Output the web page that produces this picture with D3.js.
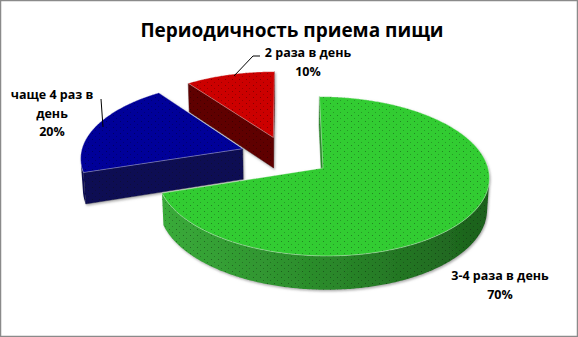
<!DOCTYPE html>
<html>
<head>
<meta charset="utf-8">
<script src="https://cdn.jsdelivr.net/npm/d3@7"></script>
<style>
  html, body { margin: 0; padding: 0; background: #fff; }
  svg { display: block; }
</style>
</head>
<body>
<svg id="chart"></svg>
<script>
const title = "Периодичность приема пищи";
const categories = ["3-4 раза в день", "чаще 4 раз в день", "2 раза в день"];
const values = [70, 20, 10];
const topColors = ["#33cc33", "#000099", "#cc0000"];
const sideColors = ["#2a8a2a", "#0b0b52", "#5e0000"];

const width = 578;
const height = 337;

// Excel-like 3D view: camera tilted down, mild perspective.
const view = {
  x0: 285.6, y0: 155.2, fx: 1400, fy: 1442, dist: 8.63,
  tilt: 27.1 * Math.PI / 180, depth: 0.21,
};
// how far each slice is pulled out (same order as categories)
const explode = [0.28, 0.28, 0.25];
const cosT = Math.cos(view.tilt);
const sinT = Math.sin(view.tilt);
const cam = { u: 0, d: -view.dist * cosT, h: view.dist * sinT };

// label anchors per slice (same order as categories)
const labelPos = [
  { x: 500, y: 280, wrap: 140 },
  { x: 52, y: 99, wrap: 86 },
  { x: 308, y: 57, wrap: 140 },
];
const leaders = [
  null,
  [[101, 99], [103, 127]],
  [[260, 56], [253, 56], [234, 76]],
];

const svg = d3.select("#chart").attr("width", width).attr("height", height);

const defs = svg.append("defs");
const dots = defs.append("pattern").attr("id", "dots")
  .attr("patternUnits", "userSpaceOnUse").attr("width", 7).attr("height", 6);
dots.append("rect").attr("x", 1).attr("y", 1).attr("width", 1).attr("height", 1).attr("fill", "#000").attr("opacity", 0.35);
dots.append("rect").attr("x", 4).attr("y", 4).attr("width", 1).attr("height", 1).attr("fill", "#000").attr("opacity", 0.25);

const shadow = defs.append("filter").attr("id", "shadow")
  .attr("x", "-10%").attr("y", "-10%").attr("width", "120%").attr("height", "130%");
shadow.append("feDropShadow").attr("dx", 1).attr("dy", 1.5).attr("stdDeviation", 1.2)
  .attr("flood-color", "#777").attr("flood-opacity", 0.6);

const greenSide = defs.append("linearGradient").attr("id", "side0")
  .attr("gradientUnits", "userSpaceOnUse").attr("x1", 160).attr("x2", 495).attr("y1", 0).attr("y2", 0);
greenSide.append("stop").attr("offset", 0).attr("stop-color", "#3aab3a");
greenSide.append("stop").attr("offset", 0.5).attr("stop-color", "#2a892a");
greenSide.append("stop").attr("offset", 1).attr("stop-color", "#1c5e1c");

svg.append("rect").attr("x", 0.5).attr("y", 0.5).attr("width", width - 1).attr("height", height - 1)
  .attr("fill", "#fff").attr("stroke", "#8a8a8a").attr("stroke-width", 1.5);

svg.append("text")
  .attr("x", 292).attr("y", 37)
  .attr("text-anchor", "middle")
  .attr("font-family", "'Open Sans', 'DejaVu Sans', sans-serif")
  .attr("font-size", 19).attr("font-weight", "bold")
  .attr("fill", "#000")
  .text(title);

function project(u, d, h) {
  const yc = d * sinT + h * cosT;
  const zc = view.dist + d * cosT - h * sinT;
  return [view.x0 + view.fx * u / zc, view.y0 - view.fy * yc / zc];
}

const pie = d3.pie().sort(null).value(d => d.value);
const arcs = pie(categories.map((c, i) => ({ name: c, value: values[i], i })));
const total = d3.sum(values);
const pct = d3.format(".0%");
const line = d3.line().curve(d3.curveLinearClosed);

const step = Math.PI / 360;
function angles(a0, a1) {
  const n = Math.max(2, Math.ceil((a1 - a0) / step));
  return d3.range(n + 1).map(k => a0 + (a1 - a0) * k / n);
}

function sliceGeometry(a, e) {
  const m = (a.startAngle + a.endAngle) / 2;
  const ou = e * Math.sin(m);
  const od = e * Math.cos(m);
  const pt = (t, r, h) => project(ou + r * Math.sin(t), od + r * Math.cos(t), h);
  const ts = angles(a.startAngle, a.endAngle);
  const H = -view.depth;

  const top = [pt(0, 0, 0), ...ts.map(t => pt(t, 1, 0))];

  // outer wall, only the parts facing the camera
  const sides = [];
  let run = [];
  ts.forEach(t => {
    const dot = -ou * Math.sin(t) - od * Math.cos(t) - 1 - view.dist * cosT * Math.cos(t);
    if (dot > 0) run.push(t);
    else if (run.length) { sides.push(run); run = []; }
  });
  if (run.length) sides.push(run);
  const walls = sides.filter(r => r.length > 1)
    .map(r => [...r.map(t => pt(t, 1, 0)), ...r.slice().reverse().map(t => pt(t, 1, H))]);

  // radial cut faces
  const toCam = [cam.u - ou, cam.d - od];
  const cuts = [];
  const n0 = [-Math.cos(a.startAngle), Math.sin(a.startAngle)];
  const n1 = [Math.cos(a.endAngle), -Math.sin(a.endAngle)];
  [[a.startAngle, n0], [a.endAngle, n1]].forEach(([t, n]) => {
    if (n[0] * toCam[0] + n[1] * toCam[1] > 0) {
      cuts.push([pt(0, 0, 0), pt(t, 1, 0), pt(t, 1, H), pt(0, 0, H)]);
    }
  });
  return { top, walls, cuts };
}

// paint far slices first
const order = [2, 1, 0];
const pieLayer = svg.append("g");
order.forEach(i => {
  const geo = sliceGeometry(arcs[i], explode[i]);
  const g = pieLayer.append("g").attr("filter", "url(#shadow)");
  const sideFill = i === 0 ? "url(#side0)" : sideColors[i];
  geo.walls.forEach(w => {
    g.append("path").attr("d", line(w)).attr("fill", sideFill);
    g.append("path").attr("d", line(w)).attr("fill", "url(#dots)");
  });
  geo.cuts.forEach(c => {
    g.append("path").attr("d", line(c)).attr("fill", sideColors[i])
      .attr("stroke", sideColors[i]).attr("stroke-width", 0.5);
    g.append("path").attr("d", line(c)).attr("fill", "url(#dots)");
  });
  g.append("path").attr("d", line(geo.top)).attr("fill", topColors[i]);
  g.append("path").attr("d", line(geo.top)).attr("fill", "url(#dots)")
    .attr("stroke", "#ffffff").attr("stroke-opacity", 0.45).attr("stroke-width", 0.8);
});

// leader lines
leaders.forEach(l => {
  if (!l) return;
  svg.append("path").attr("d", d3.line()(l)).attr("fill", "none")
    .attr("stroke", "#000").attr("stroke-width", 1);
});

// data labels
const labelLayer = svg.append("g")
  .attr("font-family", "'Open Sans', 'DejaVu Sans', sans-serif")
  .attr("font-size", 12.5).attr("font-weight", "bold").attr("fill", "#000")
  .attr("text-anchor", "middle");

arcs.forEach(a => {
  const i = a.data.i;
  const pos = labelPos[i];
  const t = labelLayer.append("text").attr("x", pos.x).attr("y", pos.y);
  const words = a.data.name.split(" ");
  const lines = [];
  let cur = [];
  words.forEach(w => {
    cur.push(w);
    const probe = t.text(cur.join(" "));
    if (probe.node().getComputedTextLength() > pos.wrap && cur.length > 1) {
      cur.pop();
      lines.push(cur.join(" "));
      cur = [w];
    }
  });
  lines.push(cur.join(" "));
  lines.push(pct(a.data.value / total));
  t.text(null);
  lines.forEach((ln, k) => {
    t.append("tspan").attr("x", pos.x).attr("dy", k === 0 ? 0 : 18.5).text(ln);
  });
});
</script>
</body>
</html>
